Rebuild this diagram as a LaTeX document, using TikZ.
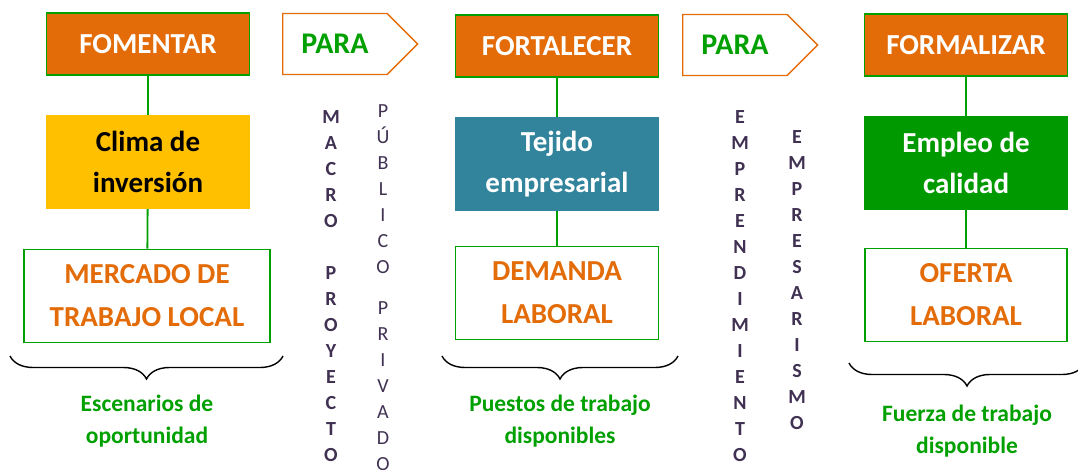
\documentclass[tikz,border=0pt]{standalone}
\usepackage{fontspec}
\setmainfont{Carlito}
\usetikzlibrary{shapes.symbols,decorations.pathreplacing}
\definecolor{naranja}{HTML}{E36C09}
\definecolor{verde}{HTML}{00A000}
\definecolor{verdeosc}{HTML}{009900}
\definecolor{amarillo}{HTML}{FFC000}
\definecolor{azul}{HTML}{31849B}
\definecolor{morado}{HTML}{403152}

\begin{document}
\begin{tikzpicture}[x=1pt,y=-1pt,
    title node/.style={draw=verde,line width=1.8pt,fill=naranja,text=white,minimum width=203pt,minimum height=62pt,font=\fontsize{29}{32}\selectfont\bfseries},
    main node/.style={minimum width=204pt,minimum height=94pt,align=center,font=\fontsize{29}{41}\selectfont\bfseries},
    out node/.style={draw=verde,line width=1.8pt,fill=white,text=naranja,minimum height=93pt,align=center,font=\fontsize{29}{43}\selectfont\bfseries},
    para node/.style={signal,signal to=east,draw=naranja,line width=1.4pt,text=verde,minimum width=135pt,minimum height=61pt,font=\fontsize{30}{32}\selectfont\bfseries},
    letras/.style={text=morado,align=center,font=\fontsize{20}{26}\selectfont\bfseries},
    nota/.style={text=verde,align=center,font=\fontsize{23.5}{32}\selectfont\bfseries},
    llave/.style={decorate,decoration={brace,amplitude=23pt},line width=1.4pt},
    conn/.style={draw=verde,line width=1.8pt}]
  \useasboundingbox (0,0) rectangle (1078,470);

  % fomentar
  \node[title node] (fomentar) at (148,44) {FOMENTAR};
  \node[main node,fill=amarillo] (clima) at (148,162) {Clima de\\inversión};
  \node[out node,minimum width=246pt] (mercado) at (147,296) {MERCADO DE\\TRABAJO LOCAL};
  \draw[conn] (fomentar) -- (clima);
  \draw[conn] (clima) -- (mercado);
  \coordinate (b1r) at (283,356);
  \coordinate (b1l) at (10,356);
  \draw[llave] (b1r) -- (b1l);
  \node[nota] (escenarios) at (147,421) {Escenarios de\\oportunidad};

  \node[para node,anchor=west] (para1) at (282,44) {PARA};
  \node[letras] (macro) at (331,286) {M\\A\\C\\R\\O\\~\\P\\R\\O\\Y\\E\\C\\T\\O};
  \node[letras,font=\fontsize{20}{26}\selectfont] (publico) at (383,288) {P\\Ú\\B\\L\\I\\C\\O\\[15pt]P\\R\\I\\V\\A\\D\\O};

  % fortalecer
  \node[title node] (fortalecer) at (557,46) {FORTALECER};
  \node[main node,fill=azul,text=white] (tejido) at (557,164) {Tejido\\empresarial};
  \node[out node,minimum width=203pt] (demanda) at (557,293) {DEMANDA\\LABORAL};
  \draw[conn] (fortalecer) -- (tejido);
  \draw[conn] (tejido) -- (demanda);
  \coordinate (b2r) at (678,356);
  \coordinate (b2l) at (442,356);
  \draw[llave] (b2r) -- (b2l);
  \node[nota] (puestos) at (560,421) {Puestos de trabajo\\disponibles};

  \node[para node,anchor=west] (para2) at (682,45) {PARA};
  \node[letras] (emprendimiento) at (740,286) {E\\M\\P\\R\\E\\N\\D\\I\\M\\I\\E\\N\\T\\O};
  \node[letras] (empresarismo) at (797,280) {E\\M\\P\\R\\E\\S\\A\\R\\I\\S\\M\\O};

  % formalizar
  \node[title node] (formalizar) at (966,45) {FORMALIZAR};
  \node[main node,fill=verdeosc,text=white] (empleo) at (966,163) {Empleo de\\calidad};
  \node[out node,minimum width=202pt] (oferta) at (966,295) {OFERTA\\LABORAL};
  \draw[conn] (formalizar) -- (empleo);
  \draw[conn] (empleo) -- (oferta);
  \coordinate (b3r) at (1085,363);
  \coordinate (b3l) at (849,363);
  \draw[llave] (b3r) -- (b3l);
  \node[nota] (fuerza) at (967,431) {Fuerza de trabajo\\disponible};
\end{tikzpicture}
\end{document}
